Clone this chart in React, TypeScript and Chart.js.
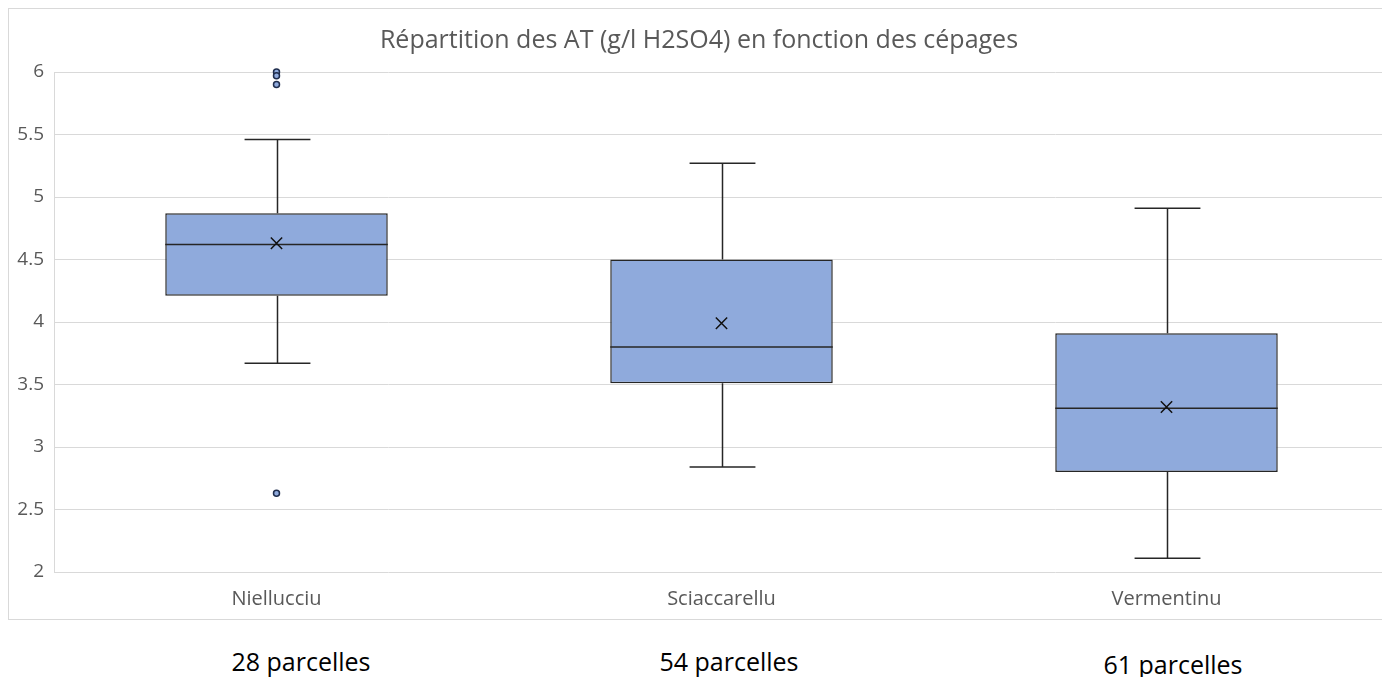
import React, { useEffect, useRef } from "react";
import { Chart, registerables } from "chart.js";

Chart.register(...registerables);

const TITLE = "Répartition des AT (g/l H2SO4) en fonction des cépages";
const categories = ["Niellucciu", "Sciaccarellu", "Vermentinu"];
const whiskerMin = [3.67, 2.84, 2.11];
const q1 = [4.21, 3.51, 2.8];
const median = [4.62, 3.8, 3.31];
const q3 = [4.87, 4.5, 3.91];
const whiskerMax = [5.46, 5.27, 4.91];
const means = [4.63, 3.99, 3.32];
const outlierCategory = ["Niellucciu", "Niellucciu", "Niellucciu", "Niellucciu"];
const outlierValues = [6.0, 5.97, 5.9, 2.63];
const parcelCounts = [28, 54, 61];
const yTicksMin = 2;
const yTicksMax = 6;
const yStep = 0.5;

const FONT = "'Open Sans', sans-serif";
const LINE = "#262626";
const FILL = "#8FAADC";

const boxPlugin = {
  id: "boxWhiskers",
  beforeDatasetsDraw(chart: any) {
    const x = chart.scales.x;
    const y = chart.scales.y;
    const ctx = chart.ctx;
    const catW = x.getPixelForValue(1) - x.getPixelForValue(0);
    const capHalf = catW * 0.074;
    ctx.save();
    ctx.strokeStyle = LINE;
    ctx.lineWidth = 1.5;
    categories.forEach((_, i) => {
      const cx = Math.round(x.getPixelForValue(i)) + 0.5;
      const yTop = y.getPixelForValue(whiskerMax[i]);
      const yQ3 = y.getPixelForValue(q3[i]);
      const yQ1 = y.getPixelForValue(q1[i]);
      const yBot = y.getPixelForValue(whiskerMin[i]);
      ctx.beginPath();
      ctx.moveTo(cx, yTop);
      ctx.lineTo(cx, yQ3);
      ctx.moveTo(cx, yQ1);
      ctx.lineTo(cx, yBot);
      ctx.moveTo(cx - capHalf, yTop);
      ctx.lineTo(cx + capHalf, yTop);
      ctx.moveTo(cx - capHalf, yBot);
      ctx.lineTo(cx + capHalf, yBot);
      ctx.stroke();
    });
    ctx.restore();
  },
  afterDatasetDraw(chart: any, args: any) {
    if (args.index !== 0) return;
    const y = chart.scales.y;
    const ctx = chart.ctx;
    const meta = chart.getDatasetMeta(0);
    ctx.save();
    ctx.strokeStyle = LINE;
    ctx.lineWidth = 1.5;
    meta.data.forEach((bar: any, i: number) => {
      const ym = y.getPixelForValue(median[i]);
      ctx.beginPath();
      ctx.moveTo(bar.x - bar.width / 2, ym);
      ctx.lineTo(bar.x + bar.width / 2, ym);
      ctx.stroke();
    });
    ctx.restore();
  },
};

export default function App() {
  const ref = useRef<HTMLCanvasElement | null>(null);

  useEffect(() => {
    if (!ref.current) return;
    const chart = new Chart(ref.current, {
      type: "bar",
      data: {
        labels: categories,
        datasets: [
          {
            type: "bar",
            label: "box",
            data: categories.map((_, i) => [q1[i], q3[i]]) as any,
            backgroundColor: FILL,
            borderColor: LINE,
            borderWidth: 1.5,
            borderSkipped: false,
            barPercentage: 0.5,
            categoryPercentage: 1,
            order: 2,
          },
          {
            type: "line",
            label: "mean",
            data: categories.map((c, i) => ({ x: c, y: means[i] })) as any,
            showLine: false,
            pointStyle: "crossRot",
            pointRadius: 8,
            pointBorderColor: "#111",
            pointBackgroundColor: "#111",
            pointBorderWidth: 1.5,
            order: 1,
          },
          {
            type: "line",
            label: "outliers",
            data: outlierValues.map((v, i) => ({ x: outlierCategory[i], y: v })) as any,
            showLine: false,
            pointStyle: "circle",
            pointRadius: 3,
            pointBackgroundColor: FILL,
            pointBorderColor: "#1f2d4d",
            pointBorderWidth: 1.5,
            clip: false as any,
            order: 0,
          },
        ],
      },
      options: {
        animation: false,
        responsive: false,
        maintainAspectRatio: false,
        layout: { autoPadding: false, padding: { left: 0, right: 1, top: 0, bottom: 0 } } as any,
        plugins: {
          legend: { display: false },
          tooltip: { enabled: false },
          title: {
            display: true,
            text: TITLE,
            color: "#595959",
            font: { family: FONT, size: 25, weight: "normal" as any },
            padding: { top: 17, bottom: 16 },
          },
        },
        scales: {
          x: {
            type: "category",
            grid: { display: false, drawTicks: false },
            border: { display: false },
            ticks: {
              color: "#595959",
              font: { family: FONT, size: 20 },
              padding: 15,
            },
            afterFit: (s: any) => {
              s.height = 47;
              s.paddingLeft = 0;
              s.paddingRight = 0;
            },
          },
          y: {
            min: yTicksMin,
            max: yTicksMax,
            grid: { color: "#d9d9d9", lineWidth: 1, drawTicks: false },
            border: { display: true, color: "#d9d9d9", width: 1 },
            ticks: {
              stepSize: yStep,
              color: "#595959",
              font: { family: FONT, size: 19 },
              padding: 10,
              callback: (v: any) => String(Number(v)),
            },
            afterFit: (s: any) => {
              s.width = 45;
            },
          },
        },
      },
      plugins: [boxPlugin],
    });
    return () => chart.destroy();
  }, []);

  const textCenters = [301, 729, 1173];
  const textTops = [646, 646, 649];

  return (
    <div style={{ position: "relative", width: 1382, height: 669 }}>
      <div
        style={{
          position: "absolute",
          left: 0,
          top: 0,
          width: 1381,
          height: 610,
          borderLeft: "1px solid #d9d9d9",
          borderTop: "1px solid #d9d9d9",
          borderBottom: "1px solid #d9d9d9",
        }}
      >
        <canvas ref={ref} width={1381} height={610} style={{ display: "block" }} />
      </div>
      {parcelCounts.map((n, i) => (
        <div
          key={i}
          style={{
            position: "absolute",
            left: textCenters[i] - 8,
            top: textTops[i] - 8,
            transform: "translateX(-50%)",
            fontFamily: FONT,
            fontSize: 25,
            lineHeight: "30px",
            color: "#000",
            whiteSpace: "nowrap",
          }}
        >
          {n} parcelles
        </div>
      ))}
    </div>
  );
}
